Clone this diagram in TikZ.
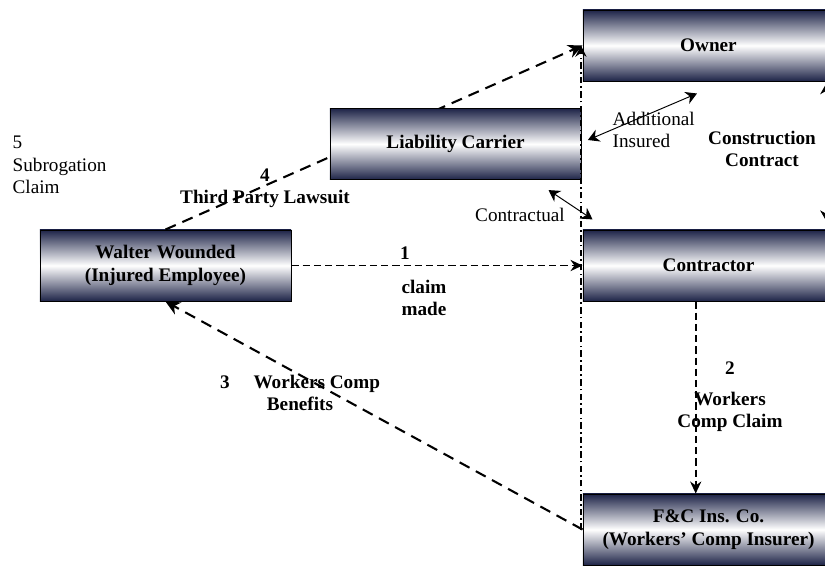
\documentclass[tikz,border=0pt]{standalone}
\usepackage{fontspec}
\setmainfont{Liberation Serif}
\usetikzlibrary{arrows.meta}
\definecolor{boxnavy}{RGB}{30,36,72}

\begin{document}
\begin{tikzpicture}[x=0.625pt,y=-0.625pt,
        every node/.style={font=\fontsize{12}{14}\selectfont},
        party/.style={draw=black,line width=0.6pt,top color=boxnavy,bottom color=boxnavy,
         middle color=white,minimum width=156.9pt,minimum height=44.4pt,inner sep=0pt,
         align=center,font=\fontsize{12}{14}\selectfont\bfseries},
        tag/.style={align=center,font=\fontsize{12}{14}\selectfont\bfseries},
        remark/.style={align=left},
        claimline/.style={line width=1pt,dash pattern=on 4.5pt off 2.5pt,
         -{Stealth[length=7.5pt,width=7pt]}},
        suitline/.style={line width=1.3pt,dash pattern=on 7pt off 4.5pt,
         -{Stealth[length=9pt,width=8.5pt]}},
        subroline/.style={line width=0.9pt,dash pattern=on 4pt off 2pt on 1pt off 2pt,
         -{Stealth[length=7pt,width=7pt]}},
        link/.style={line width=0.6pt,{Stealth[length=7pt,width=8pt]}-{Stealth[length=7pt,width=8pt]}}]

        \useasboundingbox (0,0) rectangle (825,565);
        \clip (0,0) rectangle (825,565);

        \node[party] (walter) at (165.5,265.5) {Walter Wounded\\(Injured Employee)};
        \node[party] (owner) at (708.5,45.5) {Owner};
        \node[party] (contractor) at (708.5,265.5) {Contractor};
        \node[party] (insurer) at (708.5,529.5) {F\&C Ins. Co.\\(Workers' Comp Insurer)};

        \draw[suitline] (walter.north) -- (owner.west);
        \node[party] (carrier) at (455.5,144) {Liability Carrier};

        \draw[claimline] (walter.east) -- (contractor.west);
        \draw[claimline] ([xshift=-8pt]contractor.south) -- ([xshift=-8pt]insurer.north);
        \draw[suitline] (insurer.west) -- (walter.south);
        \draw[subroline] ([xshift=-1pt]insurer.west) -- ([xshift=-1pt]owner.west);

        \draw[link] ([shift={(4pt,2.5pt)}]carrier.east) -- ([shift={(-7.2pt,-7.5pt)}]owner.south);
        \draw[link] ([shift={(-20.6pt,-6.3pt)}]carrier.south east)
         -- ([shift={(6.3pt,6.3pt)}]contractor.north west);
        \draw[link] ([shift={(-5pt,-1pt)}]owner.south east) -- ([shift={(-5pt,5pt)}]contractor.north east);

        \node[tag] (one) at (405,253) {1};
        \node[tag,align=left] (claimmade) at (424,298) {claim\\made};
        \node[tag] (two) at (730,368) {2};
        \node[tag] (compclaim) at (730,412) {Workers\\Comp Claim};
        \node[tag] (benefits) at (300,393) {3\quad\ Workers Comp\\Benefits};
        \node[tag] (lawsuit) at (265,188) {4\\Third Party Lawsuit};
        \node[tag] (contract) at (762,149) {Construction\\Contract};
        \node[remark,anchor=west] (subrogation) at (7,165) {5\\Subrogation\\Claim};
        \node[remark,anchor=west] (insured) at (607,130) {Additional\\Insured};
        \node[remark] (contractual) at (520,215) {Contractual};

\end{tikzpicture}
\end{document}
